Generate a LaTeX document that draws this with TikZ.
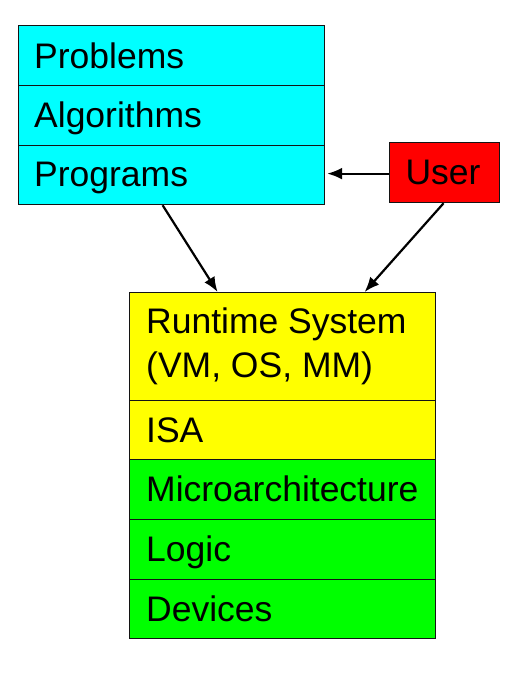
\documentclass[tikz,border=0pt]{standalone}
\usepackage{fontspec}
\setmainfont{Liberation Sans}
\usetikzlibrary{arrows.meta}
\definecolor{cyanbox}{RGB}{0,255,255}
\definecolor{redbox}{RGB}{255,0,0}
\definecolor{yellowbox}{RGB}{255,255,0}
\definecolor{greenbox}{RGB}{0,255,0}
\definecolor{edge}{RGB}{20,20,20}
\begin{document}
\begin{tikzpicture}[x=1pt,y=-1pt,
  layer/.style={draw=edge, line width=1.2pt, inner sep=0pt, anchor=north west, minimum height=#1},
  lbl/.style={anchor=base west, inner sep=0pt, font=\fontsize{35.5}{44}\selectfont, align=left},
  conn/.style={draw=black, line width=2.2pt, -{Latex[length=15pt,width=12pt]}}
]
\useasboundingbox (0,0) rectangle (509,697);
% top stack
\node[layer=60pt, minimum width=306pt, fill=cyanbox] (prob) at (18,25) {};
\node[layer=60pt, minimum width=306pt, fill=cyanbox] (algo) at (18,85) {};
\node[layer=59pt, minimum width=306pt, fill=cyanbox] (prog) at (18,145) {};
\node[lbl] (tprob) at (34,68) {Problems};
\node[lbl] (talgo) at (34,127) {Algorithms};
\node[lbl] (tprog) at (34,186) {Programs};
% user
\node[layer=60pt, minimum width=110pt, fill=redbox] (user) at (389,142) {};
\node[anchor=base, inner sep=0pt, font=\fontsize{35.5}{44}\selectfont] (tuser) at (443,184) {User};
% bottom stack
\node[layer=108pt, minimum width=306pt, fill=yellowbox] (rt) at (129,292) {};
\node[layer=59pt, minimum width=306pt, fill=yellowbox] (isa) at (129,400) {};
\node[layer=60pt, minimum width=306pt, fill=greenbox] (micro) at (129,459) {};
\node[layer=60pt, minimum width=306pt, fill=greenbox] (logic) at (129,519) {};
\node[layer=59pt, minimum width=306pt, fill=greenbox] (dev) at (129,579) {};
\node[lbl] (trt) at (146,377) {Runtime System\\(VM, OS, MM)};
\node[lbl] (tisa) at (146,442) {ISA};
\node[lbl] (tmicro) at (146,501) {Microarchitecture};
\node[lbl] (tlogic) at (146,561) {Logic};
\node[lbl] (tdev) at (146,621) {Devices};
% connectors
\draw[conn] ([yshift=-1pt]user.west) -- ([yshift=-1pt,xshift=2pt]user.west -| prog.east);
\draw[conn] ([xshift=-9pt]prog.south) -- ([xshift=-65pt]rt.north);
\draw[conn] ([xshift=-1pt]user.south) -- ([xshift=82pt]rt.north);
\end{tikzpicture}
\end{document}
